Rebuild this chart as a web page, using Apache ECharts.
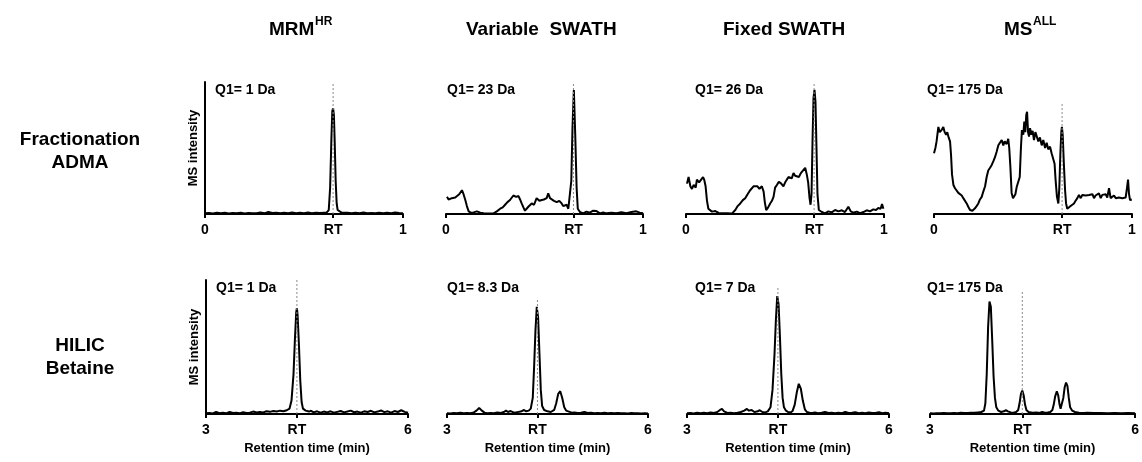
<!DOCTYPE html>
<html>
<head>
<meta charset="utf-8">
<script src="https://cdn.jsdelivr.net/npm/echarts@6/dist/echarts.min.js"></script>
<style>html,body{margin:0;padding:0;background:#fff;}#c{width:1142px;height:462px;}</style>
</head>
<body>
<div id="c"></div>
<script>
// ---------- DATA ----------
const columnTitles = ['MRM', 'Variable  SWATH', 'Fixed SWATH', 'MS'];
const columnSups = ['HR', '', '', 'ALL'];
const rowLabels = [['Fractionation', 'ADMA'], ['HILIC', 'Betaine']];
const q1Labels = [
  ['Q1= 1 Da', 'Q1= 23 Da', 'Q1= 26 Da', 'Q1= 175 Da'],
  ['Q1= 1 Da', 'Q1= 8.3 Da', 'Q1= 7 Da', 'Q1= 175 Da']
];
const xRanges = [[0, 1], [3, 6]];
const rtValues = [0.647, 4.35];
const rtLineTops = [[100, 100, 100, 84], [100, 85, 95, 91]];
const yAxisName = 'MS intensity';
const xAxisName = 'Retention time (min)';

const admaMRM = [[0,0.5],[0.02,0.8],[0.04,0.4],[0.06,1.0],[0.08,0.5],[0.1,0.9],[0.12,0.4],[0.14,0.7],[0.16,0.5],[0.18,1.0],[0.2,0.4],[0.22,0.8],[0.24,0.5],[0.26,0.6],[0.28,1.1],[0.3,0.5],[0.32,1.5],[0.34,0.7],[0.36,0.9],[0.38,0.5],[0.40,1.0],[0.42,0.6],[0.44,1.2],[0.46,0.5],[0.48,0.9],[0.50,0.6],[0.52,1.1],[0.54,0.5],[0.56,0.9],[0.58,0.7],[0.60,1.0],[0.615,1.2],[0.625,3],[0.632,20],[0.638,55],[0.643,78],[0.647,80],[0.651,75],[0.655,55],[0.66,25],[0.665,8],[0.67,3],[0.675,2.5],[0.68,1.8],[0.69,1.0],[0.70,0.6],[0.72,1.0],[0.74,0.5],[0.76,0.9],[0.78,0.6],[0.80,1.1],[0.82,0.5],[0.84,0.8],[0.86,0.6],[0.88,1.0],[0.90,0.5],[0.92,0.9],[0.94,0.6],[0.96,1.2],[0.98,0.7],[1.0,0.5]];

const admaVarSWATH = [[0.005,13],[0.013,11],[0.022,10.6],[0.030,12],[0.039,11],[0.047,12.5],[0.056,14],[0.067,15],[0.081,18],[0.089,15],[0.098,10.6],[0.106,6],[0.115,2],[0.126,1],[0.140,1.2],[0.157,2],[0.174,1],[0.191,0.5],[0.216,0.3],[0.241,0.5],[0.258,2],[0.275,4],[0.288,5],[0.300,7],[0.312,9],[0.325,10.6],[0.335,12],[0.342,14],[0.356,13],[0.368,13.6],[0.376,11],[0.384,8],[0.393,5],[0.401,2.5],[0.410,4],[0.418,5.5],[0.427,4],[0.435,8],[0.447,7],[0.460,12],[0.474,10],[0.486,10.6],[0.497,11],[0.511,12],[0.519,15.6],[0.528,12],[0.536,12.5],[0.548,10],[0.562,9],[0.575,10],[0.587,8],[0.595,6],[0.604,5.5],[0.612,7],[0.621,4],[0.629,5.5],[0.636,25],[0.642,65],[0.649,94],[0.656,60],[0.663,20],[0.669,4],[0.680,1.5],[0.696,0.5],[0.713,1.8],[0.730,1.0],[0.747,2.5],[0.764,2.2],[0.781,0.5],[0.798,1.2],[0.815,0.5],[0.840,1.0],[0.865,0.5],[0.890,1.3],[0.916,0.5],[0.941,1.5],[0.966,2.0],[0.983,1.0],[1.0,0.5]];

const admaFixSWATH = [[0.005,23],[0.013,28],[0.022,21],[0.030,19],[0.039,22],[0.049,20],[0.055,26],[0.066,24],[0.076,25.5],[0.086,28],[0.092,26],[0.099,21],[0.106,10],[0.113,4],[0.119,2.5],[0.131,1.8],[0.148,2.2],[0.165,0.8],[0.182,0.5],[0.207,0.5],[0.232,0.3],[0.240,1],[0.249,3],[0.261,6],[0.274,8],[0.287,10.5],[0.299,12],[0.311,15],[0.324,18],[0.334,19],[0.341,21],[0.351,19.5],[0.361,21],[0.371,19],[0.383,21],[0.392,17],[0.398,9],[0.405,3],[0.415,5],[0.425,8],[0.434,10],[0.442,13],[0.450,20],[0.459,22],[0.469,24.5],[0.481,23],[0.492,21],[0.501,24],[0.509,26],[0.518,28],[0.526,29.5],[0.534,27],[0.543,31],[0.551,29],[0.560,29.5],[0.570,28],[0.580,31],[0.590,30],[0.602,35],[0.610,30],[0.617,24],[0.624,12],[0.629,7],[0.634,15],[0.639,55],[0.644,88],[0.649,94],[0.654,85],[0.659,50],[0.664,15],[0.671,3],[0.686,1.5],[0.703,0.5],[0.719,2],[0.736,1.2],[0.753,3],[0.770,2],[0.787,2.8],[0.803,1.5],[0.820,5.5],[0.832,2],[0.845,1.0],[0.862,1.8],[0.879,0.6],[0.896,1.5],[0.913,2.8],[0.929,2.0],[0.946,3.5],[0.960,3.0],[0.971,4.5],[0.983,4],[0.990,7.5],[0.997,4]];

const admaMSALL = [[0.000,46],[0.007,50],[0.013,55],[0.022,66],[0.029,62],[0.034,61],[0.040,64],[0.047,66],[0.054,62],[0.061,60],[0.067,62],[0.074,58],[0.081,55],[0.086,45],[0.091,30],[0.098,22],[0.106,19.5],[0.114,18],[0.123,16],[0.131,17],[0.140,14],[0.148,12],[0.157,10.6],[0.165,8],[0.173,5.5],[0.182,3],[0.194,2.5],[0.207,4.3],[0.215,6],[0.224,8],[0.232,11],[0.241,13],[0.249,17],[0.258,21],[0.266,28],[0.274,33],[0.283,35],[0.291,37],[0.300,40],[0.308,43],[0.316,47],[0.325,52],[0.333,54],[0.342,56],[0.350,52],[0.357,55],[0.367,53],[0.375,57],[0.380,50],[0.386,35],[0.392,16],[0.399,12],[0.404,10.6],[0.411,15],[0.418,20.7],[0.426,22],[0.433,28],[0.439,50],[0.444,63.6],[0.451,60],[0.456,70],[0.461,62],[0.466,75],[0.470,77.5],[0.475,62],[0.480,58.6],[0.485,65],[0.492,60],[0.498,63],[0.505,56],[0.512,62],[0.519,61],[0.527,55],[0.535,58],[0.544,52],[0.552,56],[0.561,50],[0.569,54],[0.577,49],[0.586,51],[0.594,46],[0.603,47],[0.609,38],[0.614,26],[0.621,13],[0.628,8],[0.633,20],[0.638,45],[0.643,62],[0.646,66],[0.650,60],[0.655,41],[0.662,18],[0.667,8],[0.673,4],[0.682,3],[0.690,6],[0.699,5.5],[0.707,8],[0.715,10],[0.724,12],[0.732,14.5],[0.741,12],[0.749,14.4],[0.758,13],[0.766,14],[0.774,12.5],[0.783,14.4],[0.791,13],[0.800,15],[0.808,12],[0.816,14],[0.825,13],[0.833,15.6],[0.842,12],[0.850,14.5],[0.859,13.5],[0.867,15],[0.875,12.5],[0.884,19.5],[0.892,12],[0.901,13],[0.909,14],[0.918,12],[0.926,13.5],[0.934,12.5],[0.943,13],[0.951,12],[0.960,13.5],[0.968,12.5],[0.975,20],[0.980,26],[0.985,15],[0.990,10.6],[0.999,11]];

const betaineMRM = [[3.00,0.5],[3.05,0.8],[3.10,0.4],[3.15,1.5],[3.20,0.6],[3.25,1.0],[3.30,0.5],[3.35,1.6],[3.40,0.7],[3.45,0.9],[3.50,0.5],[3.55,1.4],[3.60,0.8],[3.65,1.0],[3.70,1.8],[3.75,1.1],[3.80,1.5],[3.85,1.2],[3.90,2.0],[3.95,1.6],[4.00,2.2],[4.05,1.8],[4.10,2.5],[4.15,2.0],[4.20,2.8],[4.24,4],[4.27,10],[4.30,30],[4.32,55],[4.34,76],[4.35,79],[4.36,74],[4.38,52],[4.40,25],[4.42,9],[4.44,4],[4.46,3.5],[4.48,2.5],[4.50,3.0],[4.53,1.8],[4.56,2.4],[4.60,1.2],[4.65,2.0],[4.70,1.0],[4.75,1.8],[4.80,1.2],[4.85,2.0],[4.90,1.0],[4.95,1.6],[5.00,2.2],[5.05,1.2],[5.10,1.8],[5.15,2.5],[5.20,1.3],[5.25,1.8],[5.30,1.0],[5.35,2.0],[5.40,1.5],[5.45,2.4],[5.50,1.2],[5.55,1.8],[5.60,2.6],[5.65,1.4],[5.70,2.0],[5.75,1.0],[5.80,2.2],[5.85,1.5],[5.90,2.8],[5.95,1.6],[6.00,1.0]];

const betaineVarSWATH = [[3.00,0.5],[3.05,0.3],[3.10,0.8],[3.15,0.5],[3.20,1.0],[3.25,0.6],[3.30,0.8],[3.35,0.5],[3.40,1.2],[3.44,2.5],[3.48,4.5],[3.52,2.5],[3.56,1.0],[3.60,0.6],[3.65,0.8],[3.70,0.5],[3.75,1.2],[3.80,0.8],[3.85,1.5],[3.88,2.5],[3.91,1.5],[3.95,2.2],[4.00,1.0],[4.05,1.4],[4.10,1.8],[4.15,3.0],[4.18,2.0],[4.22,2.5],[4.25,4],[4.28,12],[4.30,35],[4.32,62],[4.34,80],[4.35,80],[4.36,72],[4.38,45],[4.40,18],[4.42,6],[4.45,3],[4.50,2.0],[4.55,1.5],[4.60,3],[4.63,8],[4.66,15],[4.69,17],[4.72,12],[4.75,5],[4.78,2.5],[4.82,1.8],[4.86,1.0],[4.90,1.2],[4.95,0.8],[5.00,1.0],[5.05,1.5],[5.10,0.7],[5.15,1.0],[5.20,0.6],[5.25,0.8],[5.30,0.5],[5.35,0.9],[5.40,0.6],[5.45,0.7],[5.50,0.5],[5.55,0.8],[5.60,0.5],[5.65,0.6],[5.70,0.4],[5.75,0.7],[5.80,0.5],[5.85,0.6],[5.90,0.4],[5.95,0.5],[6.00,0.3]];

const betaineFixSWATH = [[3.00,0.5],[3.05,0.8],[3.10,0.4],[3.15,0.9],[3.20,0.6],[3.25,1.0],[3.30,0.5],[3.35,1.2],[3.40,0.8],[3.45,1.5],[3.49,3.0],[3.52,3.8],[3.55,2.0],[3.60,0.8],[3.65,1.0],[3.70,0.6],[3.75,0.9],[3.80,1.5],[3.85,2.5],[3.89,3.8],[3.92,2.5],[3.96,3.0],[4.00,1.5],[4.04,1.8],[4.08,2.8],[4.12,1.5],[4.16,1.2],[4.20,2.0],[4.24,5],[4.27,18],[4.30,45],[4.32,70],[4.34,88],[4.35,89],[4.36,82],[4.38,58],[4.40,30],[4.42,12],[4.44,5],[4.47,2.5],[4.50,1.5],[4.54,1.2],[4.57,2.5],[4.60,7],[4.63,16],[4.66,22.5],[4.69,19],[4.72,10],[4.75,3.5],[4.78,1.5],[4.82,1.0],[4.86,0.8],[4.90,1.2],[4.95,0.6],[5.00,0.9],[5.05,1.5],[5.10,0.7],[5.15,0.9],[5.20,0.5],[5.25,1.0],[5.30,0.6],[5.35,1.5],[5.40,0.7],[5.45,0.9],[5.50,1.3],[5.55,0.6],[5.60,0.9],[5.65,0.5],[5.70,1.2],[5.75,0.7],[5.80,0.8],[5.85,1.4],[5.90,0.6],[5.95,0.9],[6.00,0.5]];

const betaineMSALL = [[3.00,0.5],[3.05,0.4],[3.10,0.6],[3.15,0.5],[3.20,0.7],[3.25,0.5],[3.30,0.6],[3.35,0.8],[3.40,0.6],[3.45,0.9],[3.50,0.7],[3.55,0.8],[3.60,1.0],[3.65,0.9],[3.70,1.2],[3.75,1.5],[3.79,2.5],[3.81,8],[3.83,30],[3.85,65],[3.87,84],[3.88,84.5],[3.89,80],[3.91,55],[3.93,28],[3.95,12],[3.97,5],[4.00,2.5],[4.04,1.5],[4.08,2.0],[4.11,2.8],[4.14,2.0],[4.18,1.2],[4.22,1.0],[4.26,1.5],[4.29,3],[4.31,8],[4.33,15],[4.35,17.5],[4.37,14],[4.39,7],[4.41,3],[4.44,1.5],[4.50,1.0],[4.56,1.2],[4.60,0.8],[4.64,1.5],[4.68,1.0],[4.72,1.2],[4.76,1.5],[4.79,3],[4.81,7],[4.83,13],[4.855,17],[4.875,14],[4.895,7],[4.91,4],[4.93,5],[4.95,12],[4.97,20],[4.99,23.5],[5.01,21],[5.03,12],[5.05,5],[5.08,2.5],[5.12,1.5],[5.18,1.0],[5.25,0.8],[5.30,1.0],[5.40,0.7],[5.50,0.8],[5.60,0.6],[5.70,0.8],[5.80,0.6],[5.90,0.7],[6.00,0.5]];

const traces = [
  [admaMRM, admaVarSWATH, admaFixSWATH, admaMSALL],
  [betaineMRM, betaineVarSWATH, betaineFixSWATH, betaineMSALL]
];

// ---------- LAYOUT ----------
const FONT = '"Liberation Sans", Arial, Helvetica, sans-serif';
const rowsLayout = [
  { top: 82, height: 132, lefts: [205, 446, 686, 934], widths: [198, 197, 198, 198], q1y: 90 },
  { top: 280, height: 134, lefts: [206, 447, 687, 930], widths: [202, 201, 202, 211], q1y: 288 }
];
const titleX = [269, 466, 723, 1004];
const supX = [315, 0, 0, 1033];
const q1X = [[215, 447, 695, 927], [216, 447, 695, 927]];
const rowLabelY = [[140, 163], [346, 369]];

const grid = [], xAxis = [], yAxis = [], series = [], graphic = [];
for (let r = 0; r < 2; r++) {
  const L = rowsLayout[r];
  const [xmin, xmax] = xRanges[r];
  const rt = rtValues[r];
  for (let c = 0; c < 4; c++) {
    const gi = grid.length;
    grid.push({ left: L.lefts[c], top: L.top, width: L.widths[c], height: L.height, containLabel: false });
    xAxis.push({
      type: 'value', gridIndex: gi, min: xmin, max: xmax,
      axisLine: { show: true, onZero: false, lineStyle: { color: '#000', width: 2 } },
      axisTick: { show: true, customValues: [xmin, rt, xmax], length: 4, lineStyle: { color: '#000', width: 2 } },
      axisLabel: {
        show: true, customValues: [xmin, rt, xmax], margin: 9,
        color: '#000', fontWeight: 'bold', fontSize: 14, fontFamily: FONT,
        formatter: v => (Math.abs(v - rt) < 1e-6 ? 'RT' : String(v))
      },
      splitLine: { show: false },
      name: r === 1 ? xAxisName : '', nameLocation: 'middle', nameGap: 28,
      nameTextStyle: { color: '#000', fontWeight: 'bold', fontSize: 13, fontFamily: FONT }
    });
    yAxis.push({
      type: 'value', gridIndex: gi, min: 0, max: 100,
      show: c === 0,
      axisLine: { show: true, lineStyle: { color: '#000', width: 2 } },
      axisTick: { show: false }, axisLabel: { show: false }, splitLine: { show: false },
      name: c === 0 ? yAxisName : '', nameLocation: 'middle', nameGap: 5, nameRotate: 90,
      nameTextStyle: { color: '#000', fontWeight: 'bold', fontSize: 13, fontFamily: FONT }
    });
    series.push({
      type: 'line', xAxisIndex: gi, yAxisIndex: gi, data: traces[r][c],
      symbol: 'none', smooth: false, animation: false, silent: true,
      lineStyle: { color: '#000', width: 2 }, z: 2
    });
    series.push({
      type: 'line', xAxisIndex: gi, yAxisIndex: gi, data: [[rt, 0], [rt, rtLineTops[r][c]]],
      symbol: 'none', animation: false, silent: true,
      lineStyle: { color: '#8a8a8a', width: 1, type: [2, 2] }, z: 3
    });
    graphic.push({
      type: 'text', x: q1X[r][c], y: L.q1y,
      style: { text: q1Labels[r][c], font: 'bold 14px ' + FONT, fill: '#000', textAlign: 'left', textVerticalAlign: 'middle', align: 'left', verticalAlign: 'middle' }
    });
  }
  for (let k = 0; k < 2; k++) {
    graphic.push({
      type: 'text', x: 80, y: rowLabelY[r][k],
      style: { text: rowLabels[r][k], font: 'bold 19px ' + FONT, fill: '#000', textAlign: 'center', textVerticalAlign: 'middle', align: 'center', verticalAlign: 'middle' }
    });
  }
}
for (let c = 0; c < 4; c++) {
  graphic.push({
    type: 'text', x: titleX[c], y: 30,
    style: { text: columnTitles[c], font: 'bold 19px ' + FONT, fill: '#000', textAlign: 'left', textVerticalAlign: 'middle', align: 'left', verticalAlign: 'middle' }
  });
  if (columnSups[c]) {
    graphic.push({
      type: 'text', x: supX[c], y: 22,
      style: { text: columnSups[c], font: 'bold 12px ' + FONT, fill: '#000', textAlign: 'left', textVerticalAlign: 'middle', align: 'left', verticalAlign: 'middle' }
    });
  }
}

const chart = echarts.init(document.getElementById('c'), null, { renderer: 'canvas' });
chart.setOption({ animation: false, backgroundColor: '#fff', grid, xAxis, yAxis, series, graphic });
</script>
</body>
</html>
